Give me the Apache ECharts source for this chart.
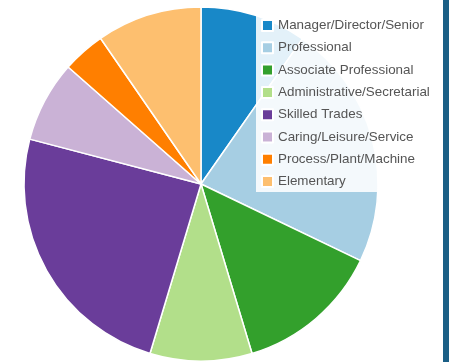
<!DOCTYPE html>
<html>
<head>
<meta charset="utf-8">
<script src="https://cdn.jsdelivr.net/npm/echarts@6/dist/echarts.min.js"></script>
<style>
  html, body { margin: 0; padding: 0; background: #ffffff; }
  #chart { width: 449px; height: 362px; }
</style>
</head>
<body>
<div id="chart"></div>
<script>
// Occupation groups, shares in percent
const categories = [
  'Manager/Director/Senior',
  'Professional',
  'Associate Professional',
  'Administrative/Secretarial',
  'Skilled Trades',
  'Caring/Leisure/Service',
  'Process/Plant/Machine',
  'Elementary'
];
const shares = [9.7, 22.4, 13.2, 9.3, 24.4, 7.4, 3.9, 9.6];
const palette = ['#1888c8', '#a6cee3', '#33a02c', '#b2df8a', '#6a3d9a', '#cab2d6', '#ff7f00', '#fdbf6f'];

const chart = echarts.init(document.getElementById('chart'), null, { renderer: 'canvas' });

chart.setOption({
  animation: false,
  color: palette,
  graphic: [
    {
      type: 'rect',
      right: 0, top: 0,
      shape: { width: 6, height: 362 },
      style: { fill: '#1a5f86' },
      z: 10
    }
  ],
  legend: {
    orient: 'vertical',
    left: 256, top: 14,
    padding: [5, 8, 4, 5],
    width: 180,
    backgroundColor: 'rgba(255,255,255,0.88)',
    itemWidth: 11, itemHeight: 11,
    itemGap: 9.3,
    icon: 'rect',
    textStyle: { fontFamily: 'Liberation Sans, Arial, sans-serif', fontSize: 13.4, color: '#555' },
    data: categories,
    z: 5
  },
  series: [{
    type: 'pie',
    center: [201, 184],
    radius: [0, 177],
    startAngle: 90,
    clockwise: true,
    label: { show: false },
    labelLine: { show: false },
    itemStyle: { borderColor: '#ffffff', borderWidth: 1.5 },
    data: categories.map((c, i) => ({ name: c, value: shares[i] })),
    z: 2
  }]
});
</script>
</body>
</html>
